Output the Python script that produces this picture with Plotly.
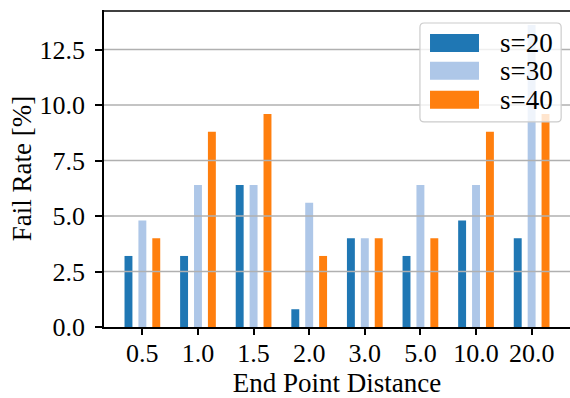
import plotly.graph_objects as go

# Fail rate per end-point distance for three sample sizes
distances = ["0.5", "1.0", "1.5", "2.0", "3.0", "5.0", "10.0", "20.0"]
s20 = [3.2, 3.2, 6.4, 0.8, 4.0, 3.2, 4.8, 4.0]
s30 = [4.8, 6.4, 6.4, 5.6, 4.0, 6.4, 6.4, 13.6]
s40 = [4.0, 8.8, 9.6, 3.2, 4.0, 4.0, 8.8, 9.6]
series_names = ["s=20", "s=30", "s=40"]
series_colors = ["#1f77b4", "#aec7e8", "#ff7f0e"]
y_ticks = [0.0, 2.5, 5.0, 7.5, 10.0, 12.5]

FONT = "Liberation Serif"
txt_font = dict(family=FONT, size=27, color="black")
tick_font = dict(family=FONT, size=26, color="black")

fig = go.Figure()
for name, vals, col in zip(series_names, [s20, s30, s40], series_colors):
    fig.add_trace(go.Bar(x=distances, y=vals, name=name, marker_color=col,
                         marker_line_width=0, showlegend=False))

ymax = max(max(s20), max(s30), max(s40)) * 1.05

fig.update_layout(
    width=570, height=398,
    margin=dict(l=104, r=0, t=10, b=71),
    plot_bgcolor="white", paper_bgcolor="white",
    barmode="group", bargap=0.25, bargroupgap=0.43,
    font=txt_font,
    xaxis=dict(
        type="category", range=[-0.69, 7.69],
        showline=True, linecolor="black", linewidth=1.5,
        ticks="outside", ticklen=6, tickwidth=1.5, tickcolor="black",
        ticklabelstandoff=-4,
        showgrid=False, tickfont=tick_font,
        title=dict(text="End Point Distance", font=txt_font, standoff=8),
    ),
    yaxis=dict(
        range=[0, ymax], tickvals=y_ticks, ticktext=[f"{v:.1f}" for v in y_ticks],
        showline=True, linecolor="black", linewidth=1.5,
        ticks="outside", ticklen=7, tickwidth=1.5, tickcolor="black",
        ticklabelstandoff=5,
        showgrid=False, zeroline=False, tickfont=tick_font,
        title=dict(text="Fail Rate [%]", font=txt_font, standoff=0),
    ),
)

# horizontal grid drawn over the bars
for v in y_ticks[1:]:
    fig.add_shape(type="line", xref="paper", yref="y", x0=0, x1=1, y0=v, y1=v,
                  line=dict(color="#b0b0b0", width=1.5), layer="above")

# top frame line
fig.add_shape(type="line", xref="paper", yref="paper", x0=0, x1=1, y0=0.997, y1=0.997,
              line=dict(color="black", width=1.5), layer="above")

# legend box with rounded corners
x0, x1, y0, y1, r = 0.678, 0.981, 0.647, 0.959, 0.009
ry = r * 466 / 317
path = (f"M {x0 + r},{y0} L {x1 - r},{y0} Q {x1},{y0} {x1},{y0 + ry} "
        f"L {x1},{y1 - ry} Q {x1},{y1} {x1 - r},{y1} L {x0 + r},{y1} "
        f"Q {x0},{y1} {x0},{y1 - ry} L {x0},{y0 + ry} Q {x0},{y0} {x0 + r},{y0} Z")
fig.add_shape(type="path", xref="paper", yref="paper", path=path,
              fillcolor="rgba(255,255,255,0.8)", line=dict(color="#cccccc", width=1.2),
              layer="above")

row_centers = [0.896, 0.808, 0.717]
for name, col, yc in zip(series_names, series_colors, row_centers):
    fig.add_shape(type="rect", xref="paper", yref="paper",
                  x0=0.6996, x1=0.8047, y0=yc - 0.0284, y1=yc + 0.0284,
                  fillcolor=col, line=dict(width=0), layer="above")
    fig.add_annotation(xref="paper", yref="paper", x=0.8455, y=yc, text=name,
                       showarrow=False, xanchor="left", yanchor="middle",
                       font=txt_font)

fig.write_html("out.html")
